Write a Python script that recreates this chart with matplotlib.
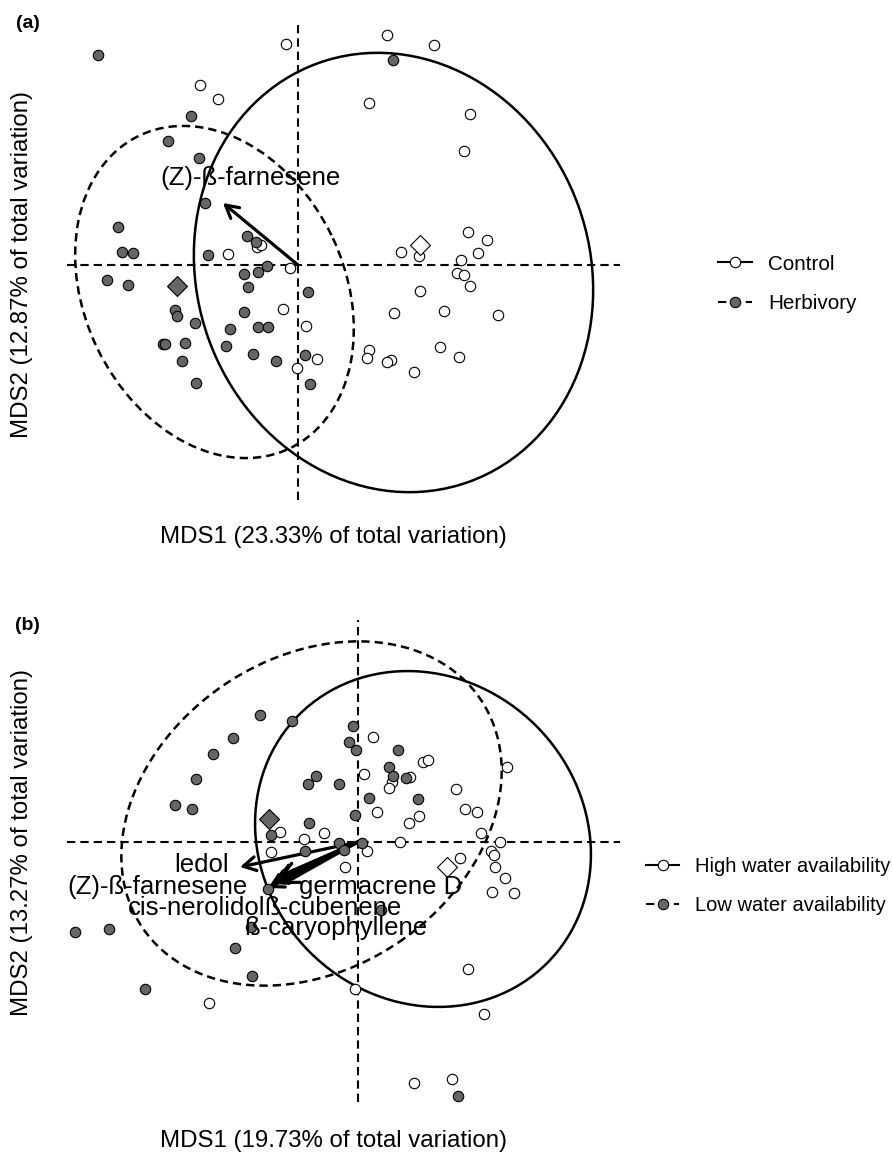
import matplotlib.pyplot as plt
from matplotlib.patches import Ellipse, FancyArrowPatch
from matplotlib.lines import Line2D

W, H, DPI = 892, 1153, 100

plt.rcParams['font.family'] = ['Liberation Sans', 'DejaVu Sans']
plt.rcParams['lines.scale_dashes'] = False

# ---- panel (a): herbivory treatment ----
ctrl_x = [-0.12, -0.98, -0.80, -0.70, -0.41, -0.37, -0.08, -0.15, 0.08, 0.19, -0.01, 0.89,
          1.36, 0.71, 1.72, 1.66, 1.03, 1.21, 1.70, 1.89, 1.80, 1.63, 1.59, 1.66, 1.72,
          1.22, 0.96, 1.46, 2.00, 1.42, 1.61, 0.71, 0.69, 0.93, 0.89, 1.16]
ctrl_y = [2.21, 1.80, 1.66, 0.11, 0.18, 0.20, -0.03, -0.44, -0.61, -0.94, -1.03, 2.30,
          2.20, 1.62, 1.51, 1.14, 0.13, 0.09, 0.33, 0.25, 0.12, 0.05, -0.08, -0.10, -0.21,
          -0.26, -0.48, -0.46, -0.50, -0.82, -0.92, -0.85, -0.93, -0.95, -0.97, -1.07]
herb_x = [-2.00, -1.07, -1.30, -0.99, -0.93, -1.80, -1.76, -1.65, -0.90, -0.51, -0.42, -0.31,
          -0.54, -0.40, -1.91, -1.70, 0.10, -0.50, -1.23, -1.21, -1.03, -0.54, -0.68, -0.40,
          -0.30, -1.35, -1.33, -1.13, -0.72, -0.45, -1.16, -0.22, 0.07, -1.02, 0.12, 0.95]
herb_y = [2.10, 1.49, 1.24, 1.07, 0.62, 0.38, 0.13, 0.12, 0.10, 0.29, 0.23, -0.01,
          -0.09, -0.07, -0.15, -0.20, -0.27, -0.22, -0.45, -0.51, -0.58, -0.47, -0.64, -0.62,
          -0.62, -0.79, -0.79, -0.78, -0.81, -0.89, -0.96, -0.96, -0.90, -1.18, -1.19, 2.05]
cent_a = {'Control': (1.22, 0.20), 'Herbivory': (-1.21, -0.21)}
# ellipse: centre x, centre y, width, height, angle
ell_a = {'Control': (0.955, -0.075, 4.45, 3.93, 109.8),
         'Herbivory': (-0.835, -0.27, 3.47, 2.60, 115.9)}
vec_a = ['(Z)-ß-farnesene']
vec_a_tip = [(-0.75, 0.62)]
vec_a_lab = [(-0.48, 0.87)]

# ---- panel (b): water availability ----
high_x = [-0.78, -0.34, -0.54, -0.87, -0.13, 0.19, 0.09, 0.15, 0.65, 0.70, 0.06, 0.52,
          0.34, 0.31, 1.49, 0.98, 1.07, 1.19, 0.61, 0.51, 1.23, 0.42, 1.42, 1.33,
          1.36, 1.37, 1.47, 1.02, 1.34, 1.56, 1.10, -0.03, 1.26, 0.56, 0.94, -1.49]
high_y = [0.10, 0.09, 0.03, -0.10, -0.25, 0.30, -0.09, 1.05, 0.80, 0.82, 0.68, 0.65,
          0.60, 0.54, 0.75, 0.53, 0.33, 0.30, 0.26, 0.19, 0.09, 0.00, 0.00, -0.09,
          -0.13, -0.25, -0.36, -0.16, -0.50, -0.51, -1.27, -1.47, -1.72, -2.41, -2.37, -1.61]
low_x = [-0.98, -0.66, -1.25, -1.45, -1.62, -1.83, -1.66, -0.05, -0.09, -0.02, -0.42, -0.50,
         -0.19, -0.03, -0.49, -0.87, -0.19, -0.53, 0.04, -0.14, -0.90, -2.83, -2.49, -1.07,
         -1.23, -1.06, -2.13, 0.23, 0.40, 0.31, 0.35, 0.48, 0.11, 0.60, 1.00]
low_y = [1.27, 1.21, 1.04, 0.88, 0.63, 0.37, 0.33, 1.16, 1.00, 0.92, 0.66, 0.58,
         0.58, 0.27, 0.19, 0.07, -0.01, -0.09, -0.01, -0.08, -0.47, -0.90, -0.87, -0.85,
         -1.06, -1.34, -1.47, -0.68, 0.92, 0.75, 0.66, 0.64, 0.44, 0.43, -2.54]
cent_b = {'High water availability': (0.89, -0.25), 'Low water availability': (-0.89, 0.23)}
ell_b = {'High water availability': (0.65, 0.03, 3.51, 3.20, -45.0),
         'Low water availability': (-0.465, 0.285, 4.08, 3.11, 34.0)}
vec_b = ['ledol', '(Z)-ß-farnesene', 'germacrene D', 'cis-nerolidol', 'ß-cubenene', 'ß-caryophyllene']
vec_b_tip = [(-1.18, -0.25), (-0.90, -0.46), (-0.78, -0.34), (-0.86, -0.42), (-0.81, -0.36), (-0.75, -0.42)]
vec_b_lab = [(-1.56, -0.23), (-2.005, -0.45), (0.225, -0.45), (-1.615, -0.66), (-0.25, -0.66), (-0.22, -0.86)]

GREY = '#666666'
DASH = (0, (6, 3.6))


def px_box(x0, y0, x1, y1):
    return [x0 / W, 1 - y1 / H, (x1 - x0) / W, (y1 - y0) / H]


def draw_panel(ax, open_xy, fill_xy, cents, ells, names, tips, labs, xlim, ylim):
    ax.set_xlim(*xlim)
    ax.set_ylim(*ylim)
    ax.axis('off')
    ax.axhline(0, color='black', lw=1.5, ls=DASH)
    ax.axvline(0, color='black', lw=1.5, ls=DASH)
    ax.plot(open_xy[0], open_xy[1], 'o', ms=7.5, mfc='white', mec='black', mew=0.8, clip_on=False)
    ax.plot(fill_xy[0], fill_xy[1], 'o', ms=7.5, mfc=GREY, mec='black', mew=0.8, clip_on=False)
    keys = list(cents)
    for k, fc in zip(keys, ['white', GREY]):
        cx, cy = cents[k]
        ax.plot([cx], [cy], 'D', ms=10.5, mfc=fc, mec='black', mew=0.8)
    for k, ls in zip(keys, ['-', DASH]):
        cx, cy, w, h, ang = ells[k]
        ax.add_patch(Ellipse((cx, cy), w, h, angle=ang, fill=False, lw=1.8, ls=ls, ec='black'))
    for name, tip, lab in zip(names, tips, labs):
        ax.add_patch(FancyArrowPatch((0, 0), tip, arrowstyle='->,head_length=0.45,head_width=0.25',
                                     mutation_scale=20, lw=2.3, color='black',
                                     shrinkA=0, shrinkB=0))
        ax.text(lab[0], lab[1], name, ha='center', va='center', fontsize=18.5)


def add_legend(ax, labels, x_px, y_px, size):
    handles = [Line2D([], [], color='black', lw=1.5, ls='-', marker='o', ms=7.5,
                      mfc='white', mec='black', mew=0.8),
               Line2D([], [], color='black', lw=1.5, ls=(0, (6, 4)), marker='o', ms=7.5,
                      mfc=GREY, mec='black', mew=0.8)]
    ax.legend(handles, labels, loc='center left', bbox_to_anchor=(x_px / W, 1 - y_px / H),
              bbox_transform=ax.figure.transFigure, frameon=False, fontsize=size,
              handlelength=1.64, handletextpad=0.8, labelspacing=1.0, numpoints=1,
              borderpad=0, borderaxespad=0)


fig = plt.figure(figsize=(W / DPI, H / DPI), dpi=DPI)

ax_a = fig.add_axes(px_box(67, 20, 620, 500))
draw_panel(ax_a, (ctrl_x, ctrl_y), (herb_x, herb_y), cent_a, ell_a,
           vec_a, vec_a_tip, vec_a_lab, (-2.31, 3.22), (-2.35, 2.45))
add_legend(ax_a, list(cent_a), 718, 284, 14.9)

ax_b = fig.add_axes(px_box(67, 620, 620, 1102))
draw_panel(ax_b, (high_x, high_y), (low_x, low_y), cent_b, ell_b,
           vec_b, vec_b_tip, vec_b_lab, (-2.91, 2.62), (-2.60, 2.22))
add_legend(ax_b, list(cent_b), 646, 886, 14.5)

fig.text(27.5 / W, 1 - 24 / H, '(a)', fontsize=14, fontweight='bold', ha='center', va='center')
fig.text(27.5 / W, 1 - 626 / H, '(b)', fontsize=14, fontweight='bold', ha='center', va='center')

fig.text(333 / W, 1 - 537 / H, 'MDS1 (23.33% of total variation)', fontsize=17.3, ha='center', va='center')
fig.text(22 / W, 1 - 265 / H, 'MDS2 (12.87% of total variation)', fontsize=17.3, ha='center',
         va='center', rotation=90)
fig.text(333 / W, 1 - 1141 / H, 'MDS1 (19.73% of total variation)', fontsize=17.3, ha='center', va='center')
fig.text(22 / W, 1 - 842 / H, 'MDS2 (13.27% of total variation)', fontsize=17.3, ha='center',
         va='center', rotation=90)

fig.savefig('out.png', dpi=DPI)
